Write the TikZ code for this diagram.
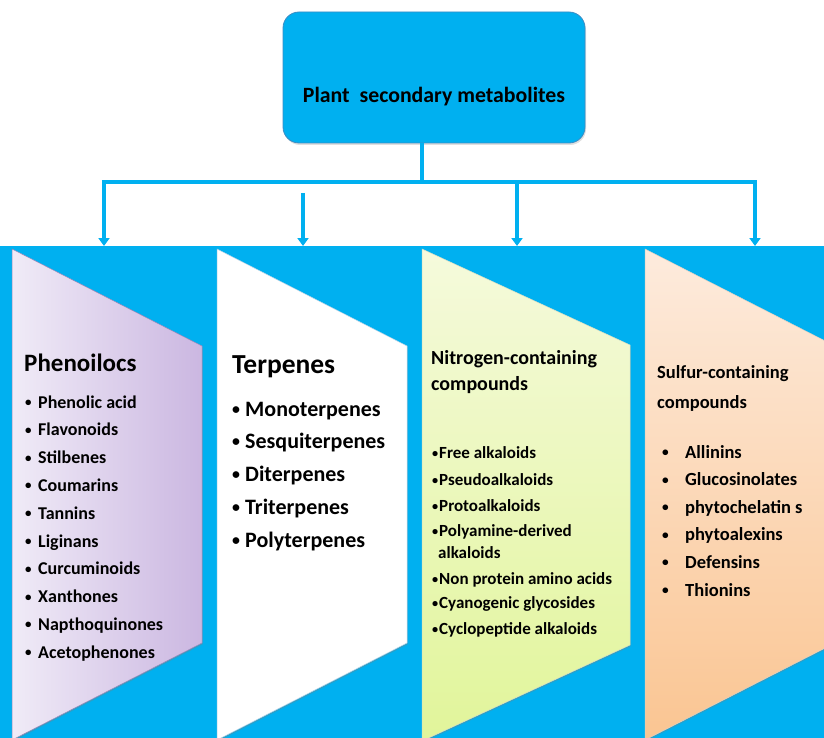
\documentclass[tikz,border=0pt]{standalone}
\usepackage{fontspec}
\setmainfont{Carlito}
\usepackage{tikz}
\usetikzlibrary{arrows.meta,shadows}
\definecolor{bandc}{HTML}{00B0F0}
\definecolor{boxedge}{HTML}{3C8CC4}
\definecolor{lilacl}{HTML}{F0EBF7}
\definecolor{lilacr}{HTML}{CBB7E1}
\definecolor{lilacedge}{HTML}{9A86B8}
\definecolor{limet}{HTML}{F5FADC}
\definecolor{limeb}{HTML}{E1F59A}
\definecolor{peacht}{HTML}{FDEBDD}
\definecolor{peachb}{HTML}{FAC592}
\newcommand{\smallbul}[1]{\makebox[#1][l]{\raisebox{0.08em}{\scalebox{0.72}{\textbullet}}}}
\tikzset{
  link/.style={line width=4.5pt,bandc},
  arr/.style={link,-{Triangle[width=11pt,length=8pt]}},
  rootbox/.style={draw=boxedge,line width=0.8pt,rounded corners=16pt,fill=bandc,minimum width=302pt,minimum height=131pt,
    drop shadow={opacity=0.25,shadow xshift=1pt,shadow yshift=-2pt}},
  panel/.style={line width=0.5pt,drop shadow={opacity=0.35,shadow xshift=0.5pt,shadow yshift=-1.5pt}},
  hd/.style={anchor=base west,inner sep=0pt,font=\bfseries\fontsize{#1}{#1}\selectfont},
  it/.style={anchor=base west,inner sep=0pt,font=\bfseries\fontsize{#1}{#1}\selectfont}
}
\begin{document}
\begin{tikzpicture}[x=1pt,y=-1pt]
\useasboundingbox (0,0) rectangle (824,738);
\clip (0,0) rectangle (824,738);
% blue band behind the four panels
\fill[bandc] (0,246) rectangle (824,738);
% panels
\path[panel,draw=lilacedge,left color=lilacl,right color=lilacr] (12,249) -- (202,346) -- (202,643) -- (12,740) -- cycle;
\path[panel,draw=boxedge!40,fill=white] (217,249) -- (407,346) -- (407,643) -- (217,740) -- cycle;
\path[panel,draw=limeb!70!black!40,top color=limet,bottom color=limeb] (422,249) -- (630,345) -- (630,645) -- (422,741) -- cycle;
\path[panel,draw=peachb!70!black!40,top color=peacht,bottom color=peachb] (645,249) -- (835,346) -- (835,643) -- (645,740) -- cycle;

% root and tree
\node[rootbox] (root) at (434,77.5) {};
\node[font=\bfseries\fontsize{21.8}{21.8}\selectfont] (roottxt) at (434,97) {Plant\ \ secondary metabolites};
\coordinate (hub) at (422,182);
\coordinate (barL) at (101.75,182);
\coordinate (barR) at (757.25,182);
\coordinate (tip1) at (104,246);
\coordinate (tip2) at (303,246);
\coordinate (tip3) at (517,246);
\coordinate (tip4) at (755,246);
\coordinate (s2) at (303,193);
\draw[link] (root.south -| hub) -- (hub);
\draw[link] (barL) -- (barR);
\draw[arr] (tip1 |- hub) -- (tip1);
\draw[arr] (s2) -- (tip2);
\draw[arr] (tip3 |- hub) -- (tip3);
\draw[arr] (tip4 |- hub) -- (tip4);

% phenolics
\node[hd=25] (phen) at (24,371) {Phenoilocs};
\foreach \txt [count=\i] in {Phenolic acid,Flavonoids,Stilbenes,Coumarins,Tannins,Liginans,Curcuminoids,Xanthones,Napthoquinones,Acetophenones}
  \node[it=18] (phen\i) at (25,{408+(\i-1)*27.8}) {\smallbul{13pt}\txt};

% terpenes
\node[hd=27.5] (terp) at (232,373) {Terpenes};
\foreach \txt [count=\i] in {Monoterpenes,Sesquiterpenes,Diterpenes,Triterpenes,Polyterpenes}
  \node[it=22] (terp\i) at (232,{416+(\i-1)*32.75}) {\smallbul{13pt}\txt};

% nitrogen
\node[hd=20] (nitA) at (431,364.5) {Nitrogen-containing};
\node[hd=20] (nitB) at (431,390.5) {compounds};
\foreach \y/\txt [count=\i] in {453/Free alkaloids,480/Pseudoalkaloids,506/Protoalkaloids,531/Polyamine-derived,579/Non protein amino acids,603/Cyanogenic glycosides,629/Cyclopeptide alkaloids}
  \node[it=17] (nit\i) at (432,\y+5.5) {\smallbul{7pt}\txt};
\node[it=17] (nitwrap) at (438,558.5) {alkaloids};

% sulfur
\node[hd=18.5] (sulfA) at (657,378) {Sulfur-containing};
\node[hd=18.5] (sulfB) at (657,408) {compounds};
\foreach \txt [count=\i] in {Allinins,Glucosinolates,phytochelatin s,phytoalexins,Defensins,Thionins}
  \node[it=18.5] (sulf\i) at (662,{458+(\i-1)*27.6}) {\smallbul{23pt}\txt};
\end{tikzpicture}
\end{document}
